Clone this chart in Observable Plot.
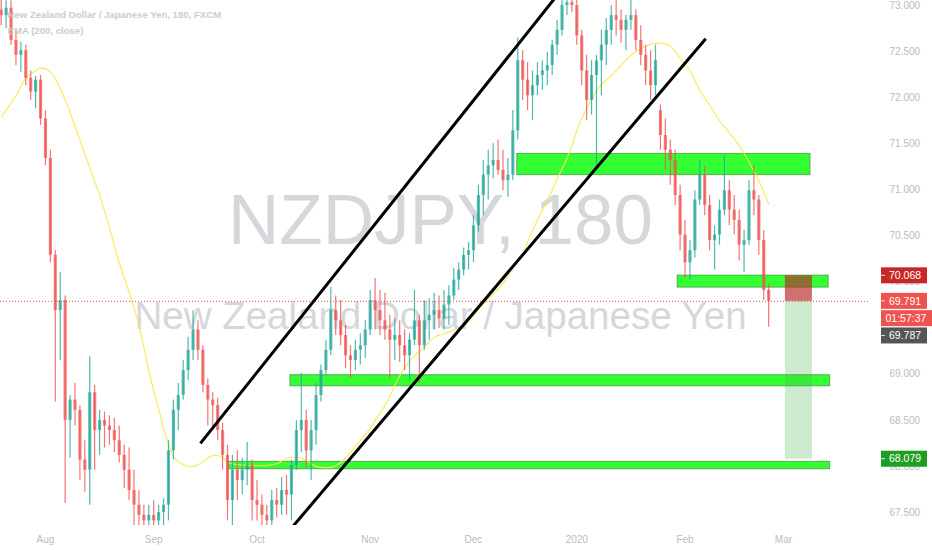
<!DOCTYPE html>
<html><head><meta charset="utf-8">
<script src="https://cdn.jsdelivr.net/npm/d3@7"></script>
<script src="https://cdn.jsdelivr.net/npm/@observablehq/plot@0.6"></script>
<style>
html,body{margin:0;padding:0;background:#fff;}
#chart{width:932px;height:550px;overflow:hidden;position:relative;}
</style></head><body><div id="chart"></div>
<script>
// ---------- DATA ----------
const startDate = "2019-07-19";
const holidays = ["2019-12-25", "2020-01-01"];
const monthStarts = ["2019-08", "2019-09", "2019-10", "2019-11", "2019-12", "2020-01", "2020-02", "2020-03"];
const monthLabels = ["Aug", "Sep", "Oct", "Nov", "Dec", "2020", "Feb", "Mar"];
const yTicks = [67.5, 68, 68.5, 69, 70, 70.5, 71, 71.5, 72, 72.5, 73];

const open = [
72.95,72.89,72.97,72.62,72.46,72.51,72.21,72.06,72.19,71.77,
71.34,70.29,69.69,69.80,68.50,68.72,68.61,68.07,67.96,68.80,
68.39,68.50,68.44,68.39,68.28,68.12,67.96,67.74,67.58,67.47,
67.41,67.47,67.41,67.50,67.58,68.17,68.61,68.77,69.04,69.26,
69.48,69.26,68.88,68.72,68.66,68.39,68.12,67.63,67.96,67.85,
67.96,68.01,67.63,67.58,67.47,67.41,67.63,67.58,67.74,67.69,
68.01,68.39,68.50,68.17,68.39,68.77,69.04,69.26,69.69,69.58,
69.42,69.20,69.15,69.26,69.31,69.48,69.80,69.69,69.58,69.48,
69.37,69.42,69.31,69.20,69.37,69.58,69.31,69.58,69.64,69.69,
69.60,69.75,69.85,70.02,70.13,70.29,70.34,70.61,70.94,71.16,
71.26,71.32,71.21,71.10,71.16,71.64,72.40,72.19,72.02,72.13,
72.24,72.29,72.35,72.57,72.73,73.00,73.03,73.00,72.67,72.29,
71.97,72.24,72.40,72.57,72.73,72.89,72.84,72.73,72.84,72.89,
72.62,72.46,72.29,72.13,71.86,71.59,71.43,71.32,70.94,70.51,
70.21,70.34,70.89,71.16,70.83,70.45,70.51,70.78,70.99,70.78,
70.67,70.40,70.45,70.99,70.89,70.45,69.91];
const high = [
73.11,73.05,73.05,72.73,72.60,72.57,72.29,72.23,72.24,71.86,
71.43,70.34,70.10,69.85,68.77,68.90,68.66,68.28,69.19,68.88,
68.61,68.59,68.55,68.52,68.44,68.23,68.20,67.96,67.74,67.58,
67.58,67.63,67.58,67.65,68.28,68.72,68.90,69.15,69.40,69.69,
69.58,69.31,68.95,68.80,68.74,68.47,68.23,68.12,68.17,68.09,
68.26,68.07,67.85,67.69,67.58,67.74,67.76,67.88,67.90,68.07,
68.50,69.01,68.61,68.50,68.90,69.10,69.37,69.94,69.85,69.80,
69.53,69.31,69.37,69.44,69.58,69.91,70.04,69.91,69.88,69.64,
69.60,69.58,69.48,69.44,69.91,69.64,69.80,69.82,69.88,69.85,
69.91,69.96,70.15,70.21,70.37,70.43,70.72,71.05,71.32,71.43,
71.50,71.54,71.43,71.34,71.86,72.65,72.51,72.38,72.29,72.38,
72.40,72.49,72.62,72.84,73.11,73.14,73.16,73.11,72.73,72.46,
72.40,72.46,72.73,72.86,73.00,73.05,72.95,72.89,73.08,72.95,
72.78,72.57,72.51,72.57,71.92,71.77,71.54,71.43,71.05,70.67,
70.45,70.99,71.32,71.26,70.94,70.61,70.89,71.37,71.10,70.94,
70.78,70.56,71.10,71.26,70.94,70.56,69.98];
const low = [
72.78,72.75,72.57,72.35,72.27,72.13,71.97,71.88,71.70,71.26,
70.21,68.70,69.15,67.60,68.09,68.44,67.85,67.72,67.58,67.96,
68.12,68.20,68.23,68.15,68.04,67.76,67.63,67.33,67.30,67.25,
67.25,67.20,67.20,67.30,67.41,68.07,68.39,68.72,68.93,69.15,
69.15,68.80,68.44,68.41,68.28,67.96,67.41,67.36,67.63,67.69,
67.79,67.41,67.41,67.30,67.28,67.36,67.44,67.47,67.47,67.41,
67.96,68.15,67.98,67.85,68.23,68.70,68.99,69.20,69.42,69.31,
69.06,68.95,69.04,69.10,69.17,69.42,69.48,69.42,69.37,68.95,
69.15,69.13,69.04,68.93,69.31,68.90,69.26,69.37,69.48,69.50,
69.48,69.53,69.80,69.91,70.07,70.13,70.21,70.54,70.72,70.89,
71.12,71.16,70.99,70.92,71.10,71.54,71.97,71.86,71.75,72.02,
72.08,72.13,72.24,72.46,72.67,72.89,72.92,72.57,72.13,71.75,
71.81,71.26,72.02,72.35,72.57,72.67,72.59,72.51,72.73,72.51,
72.35,72.13,71.97,72.02,71.43,71.21,71.05,70.83,70.34,70.04,
70.02,70.26,70.83,70.72,70.34,70.13,70.40,70.72,70.61,70.51,
70.23,70.10,70.40,70.72,70.29,69.80,69.51];
const close = [
72.89,72.97,72.62,72.46,72.51,72.21,72.06,72.19,71.77,71.34,
70.29,69.69,69.80,68.50,68.72,68.61,68.07,67.96,68.80,68.39,
68.50,68.44,68.39,68.28,68.12,67.96,67.74,67.58,67.47,67.41,
67.47,67.41,67.50,67.58,68.17,68.61,68.77,69.04,69.26,69.48,
69.26,68.88,68.72,68.66,68.39,68.12,67.63,67.96,67.85,67.96,
68.01,67.63,67.58,67.47,67.41,67.63,67.58,67.74,67.69,68.01,
68.39,68.50,68.17,68.39,68.77,69.04,69.26,69.69,69.58,69.42,
69.20,69.15,69.26,69.31,69.48,69.80,69.69,69.58,69.48,69.37,
69.42,69.31,69.20,69.37,69.58,69.31,69.58,69.64,69.69,69.60,
69.75,69.85,70.02,70.13,70.29,70.34,70.61,70.94,71.16,71.26,
71.32,71.21,71.10,71.16,71.64,72.40,72.19,72.02,72.13,72.24,
72.29,72.35,72.57,72.73,73.00,73.03,73.00,72.67,72.29,71.97,
72.24,72.40,72.57,72.73,72.89,72.84,72.73,72.84,72.89,72.62,
72.46,72.29,72.13,72.40,71.59,71.43,71.32,70.94,70.51,70.21,
70.34,70.89,71.16,70.83,70.45,70.51,70.78,70.99,70.78,70.67,
70.40,70.45,70.99,70.89,70.45,69.91,69.79];

// EMA(200, close) at these bar numbers
const emaBar = [0,3,5,7,8,10,12,14,16,18,20,22,24,26,28,30,31,32,33,34,35,36,37,38,39,40,41,42,43,44,45,46,47,48,50,52,54,56,58,59,61,62,63,64,65,67,68,69,70,71,72,73,74,75,76,78,79,80,82,84,86,88,90,92,94,96,98,100,102,104,106,107,108,109,110,111,112,113,114,115,116,117,118,119,120,121,122,124,126,128,130,132,134,136,138,140,142,144,146,148,150,152,154,156];
const emaVal = [71.79,72.02,72.21,72.29,72.32,72.28,72.10,71.84,71.54,71.24,70.94,70.59,70.21,69.89,69.53,69.04,68.82,68.63,68.41,68.25,68.11,68.05,68.02,68.00,68.00,68.02,68.05,68.09,68.12,68.12,68.10,68.05,68.03,68.02,68.01,68.01,68.01,68.03,68.09,68.10,68.09,68.07,68.03,68.00,67.99,67.99,68.01,68.04,68.09,68.15,68.22,68.28,68.35,68.41,68.50,68.66,68.76,68.88,69.07,69.20,69.29,69.40,69.44,69.48,69.52,69.64,69.76,69.87,69.98,70.16,70.30,70.43,70.56,70.67,70.78,70.89,70.99,71.12,71.23,71.34,71.48,71.64,71.77,71.88,71.98,72.07,72.14,72.24,72.35,72.46,72.53,72.58,72.59,72.56,72.43,72.29,72.08,71.92,71.75,71.62,71.48,71.30,71.10,70.85];

// drawings (bar number, price)
const zoneBarFrom = [104.9, 137.5, 58.8, 46.2];
const zoneBarTo   = [164.5, 168.2, 168.5, 168.5];
const zoneTop     = [71.39, 70.07, 68.99, 68.05];
const zoneBottom  = [71.16, 69.94, 68.87, 67.97];
const lineBarFrom = [40.5, 58.5];
const linePriceFrom = [68.25, 67.30];
const lineBarTo   = [113, 143.2];
const linePriceTo = [73.11, 72.64];
const posBarFrom = 159.4, posBarTo = 164.9;
const entryPrice = 69.791, stopPrice = 70.068, targetPrice = 68.079;
const bidPrice = 69.787;
const countdown = "01:57:37";

const titleText = "NZDJPY, 180";
const subtitleText = "New Zealand Dollar / Japanese Yen";
const legend1 = "New Zealand Dollar / Japanese Yen, 180, FXCM";
const legend2 = "EMA (200, close)";

// ---------- BUILD ----------
function tradingDays(start, n) {
  const out = []; const d = new Date(start + "T00:00:00Z");
  while (out.length < n) {
    const w = d.getUTCDay(); const s = d.toISOString().slice(0, 10);
    if (w !== 0 && w !== 6 && !holidays.includes(s)) out.push(s);
    d.setUTCDate(d.getUTCDate() + 1);
  }
  return out;
}
const days = tradingDays(startDate, 185);
const monthBars = monthStarts.map(m => days.findIndex(d => d.startsWith(m)));
const monthMap = new Map(monthBars.map((b, i) => [b, monthLabels[i]]));

const bars = open.map((o, i) => ({bar: i, open: o, high: high[i], low: low[i], close: close[i]}));
const ema = emaBar.map((b, i) => ({bar: b, v: emaVal[i]}));
const zones = zoneTop.map((t, i) => ({x1: zoneBarFrom[i], x2: zoneBarTo[i], y1: zoneBottom[i], y2: t}));
const lines = lineBarFrom.map((b, i) => ({x1: b, y1: linePriceFrom[i], x2: lineBarTo[i], y2: linePriceTo[i]}));

const UP = "#26a69a", DOWN = "#ef5350";
const col = d => d.close >= d.open ? UP : DOWN;
const AX = "#b9bcc2";
const WM = "#d6d7db";

const chart = Plot.plot({
  width: 932, height: 550,
  marginLeft: 0, marginRight: 62, marginTop: 0, marginBottom: 25,
  style: {fontFamily: "'Liberation Sans', Arial, sans-serif", background: "#fff"},
  x: {type: "linear", domain: [-0.14, 176.7], axis: null},
  y: {type: "linear", domain: [67.36, 73.054], axis: null},
  marks: [
    Plot.text([titleText], {frameAnchor: "top", dx: 5, dy: 221, lineAnchor: "middle", fontSize: 71, fill: WM}),
    Plot.text([subtitleText], {frameAnchor: "top", dx: 5, dy: 316, lineAnchor: "middle", fontSize: 38.5, fill: WM}),
    Plot.axisY({anchor: "right", ticks: yTicks, tickFormat: d => d.toFixed(3), tickSize: 0, tickPadding: 19, fontSize: 10, color: AX}),
    Plot.axisX({ticks: monthBars, tickFormat: b => monthMap.get(b), tickSize: 0, tickPadding: 10, fontSize: 10, color: AX}),
    Plot.rect(zones, {x1: "x1", x2: "x2", y1: "y1", y2: "y2", fill: "#33ff33", stroke: "#3d8b3d", strokeOpacity: 0.7, strokeWidth: 1}),
    Plot.line(ema, {x: "bar", y: "v", stroke: "#fce84f", strokeWidth: 1.1, curve: "catmull-rom", clip: true}),
    Plot.ruleX(bars, {x: "bar", y1: "low", y2: "high", stroke: col, strokeWidth: 1.2, strokeOpacity: 0.8, clip: true}),
    Plot.ruleX(bars, {x: "bar", y1: "open", y2: "close", stroke: col, strokeWidth: 3.2, strokeOpacity: 0.72, clip: true}),
    Plot.rect([{x1: posBarFrom, x2: posBarTo, y1: entryPrice, y2: stopPrice}], {x1: "x1", x2: "x2", y1: "y1", y2: "y2", fill: "rgb(185,44,44)", fillOpacity: 0.68}),
    Plot.rect([{x1: posBarFrom, x2: posBarTo, y1: targetPrice, y2: entryPrice}], {x1: "x1", x2: "x2", y1: "y1", y2: "y2", fill: "rgb(76,175,80)", fillOpacity: 0.28}),
    Plot.ruleY([entryPrice], {stroke: "#ef5350", strokeDasharray: "1,2", strokeWidth: 1}),
    Plot.link(lines, {x1: "x1", y1: "y1", x2: "x2", y2: "y2", stroke: "#000", strokeWidth: 3, clip: true}),
    Plot.text([legend1], {frameAnchor: "top-left", dx: 7, dy: 14, lineAnchor: "middle", fontSize: 9.6, fontWeight: 600, fill: "#cccccc"}),
    Plot.text([legend2], {frameAnchor: "top-left", dx: 7, dy: 30, lineAnchor: "middle", fontSize: 9.6, fontWeight: 600, fill: "#cccccc"})
  ]
});
document.getElementById("chart").appendChild(chart);

// price-axis label boxes
const ys = chart.scale("y");
const yEntry = ys.apply(entryPrice);
const boxes = [
  {text: stopPrice.toFixed(3), cy: ys.apply(stopPrice), fill: "#c62828", w: 46, tick: true},
  {text: entryPrice.toFixed(3), cy: yEntry, fill: "#ef5350", w: 46, tick: true},
  {text: countdown, cy: yEntry + 17.3, fill: "#ef5350", w: 51, tick: false},
  {text: bidPrice.toFixed(3), cy: yEntry + 34.6, fill: "#555555", w: 46, tick: true},
  {text: targetPrice.toFixed(3), cy: ys.apply(targetPrice), fill: "#1f9e24", w: 46, tick: true}
];
const g = d3.select(chart).append("g")
  .attr("font-family", "'Liberation Sans', Arial, sans-serif")
  .attr("text-anchor", "start");
for (const b of boxes) {
  g.append("rect").attr("x", 881).attr("y", b.cy - 8).attr("width", b.w).attr("height", 16).attr("fill", b.fill);
  if (b.tick) g.append("line").attr("x1", 881).attr("x2", 885).attr("y1", b.cy).attr("y2", b.cy).attr("stroke", "#fff").attr("stroke-opacity", 0.8);
  g.append("text").attr("x", b.tick ? 889 : 885.5).attr("y", b.cy).attr("dy", "0.35em").attr("font-size", 10.5).attr("fill", "#fff").attr("text-anchor", "start").text(b.text);
}
</script></body></html>
